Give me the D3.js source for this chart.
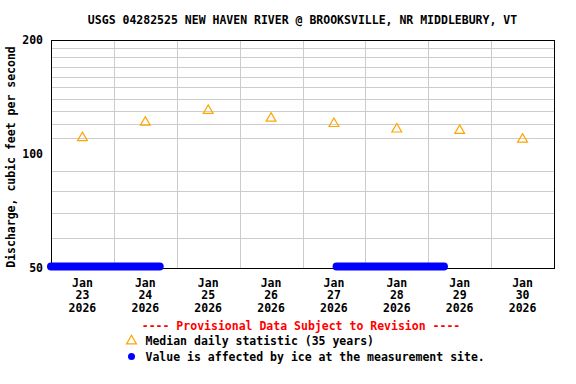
<!DOCTYPE html>
<html>
<head>
<meta charset="utf-8">
<script src="https://d3js.org/d3.v7.min.js"></script>
<style>
  body { margin: 0; background: #fff; }
  text { font-family: "DejaVu Sans Mono", monospace; font-weight: bold; }
</style>
</head>
<body>
<div id="chart"></div>
<script>
// Days shown on the x axis (labels at noon of each day)
var days = ["2026-01-23", "2026-01-24", "2026-01-25", "2026-01-26",
            "2026-01-27", "2026-01-28", "2026-01-29", "2026-01-30"];
// Median daily statistic (35 years), cfs
var medianValues = [111, 122, 131, 125, 121, 117, 116, 110];
// Ice-affected periods (start, end)
var iceStart = ["2026-01-23T00:00", "2026-01-27T13:00"];
var iceEnd   = ["2026-01-24T17:30", "2026-01-29T06:00"];
// y axis
var yTicks = [50, 100, 200];
var yGrid = [60, 70, 80, 90, 110, 120, 130, 140, 150, 160, 170, 180, 190];

var W = 576, H = 384;
var plotL = 51, plotR = 554, plotT = 40, plotB = 268;

var parse = d3.timeParse("%Y-%m-%dT%H:%M");
var parseDay = d3.timeParse("%Y-%m-%d");

var svg = d3.select("#chart").append("svg")
    .attr("width", W)
    .attr("height", H);

var x = d3.scaleTime()
    .domain([parseDay("2026-01-23"), parseDay("2026-01-31")])
    .range([plotL, plotR]);

var y = d3.scaleLog()
    .domain([50, 200])
    .range([plotB, plotT]);

// horizontal grid
svg.append("g").selectAll("line")
    .data(yGrid)
    .enter().append("line")
    .attr("x1", plotL).attr("x2", plotR)
    .attr("y1", function(d) { return Math.round(y(d)) + 0.5; })
    .attr("y2", function(d) { return Math.round(y(d)) + 0.5; })
    .attr("stroke", "#cccccc");

// vertical grid at day boundaries
var bounds = d3.timeDay.range(parseDay("2026-01-24"), parseDay("2026-01-31"));
svg.append("g").selectAll("line")
    .data(bounds)
    .enter().append("line")
    .attr("x1", function(d) { return Math.round(x(d)) + 0.5; })
    .attr("x2", function(d) { return Math.round(x(d)) + 0.5; })
    .attr("y1", plotT).attr("y2", plotB)
    .attr("stroke", "#cccccc");

// plot frame
svg.append("rect")
    .attr("x", plotL + 0.5).attr("y", plotT + 0.5)
    .attr("width", plotR - plotL).attr("height", plotB - plotT)
    .attr("fill", "none")
    .attr("stroke", "#000");

// ice periods, drawn at the bottom of the plot
svg.append("g").selectAll("line")
    .data(iceStart)
    .enter().append("line")
    .attr("x1", function(d) { return x(parse(d)); })
    .attr("x2", function(d, i) { return x(parse(iceEnd[i])); })
    .attr("y1", y(50) - 1.5)
    .attr("y2", y(50) - 1.5)
    .attr("stroke", "#0000ff")
    .attr("stroke-width", 8)
    .attr("stroke-linecap", "round");

// median triangles
var tri = d3.symbol().type(d3.symbolTriangle).size(42);
svg.append("g").selectAll("path")
    .data(medianValues)
    .enter().append("path")
    .attr("d", tri)
    .attr("transform", function(d, i) {
        var t = d3.timeHour.offset(parseDay(days[i]), 12);
        return "translate(" + x(t) + "," + (y(d) + 1) + ")";
    })
    .attr("fill", "none")
    .attr("stroke", "#ffa500")
    .attr("stroke-width", 1.2);

// y tick labels
svg.append("g").selectAll("text")
    .data(yTicks)
    .enter().append("text")
    .attr("x", 43)
    .attr("y", function(d) { return y(d); })
    .attr("dy", "0.34em")
    .attr("text-anchor", "end")
    .style("font-size", "11.5px")
    .text(function(d) { return d; });

// x tick labels
var fmtDay = d3.timeFormat("%d");
var xl = svg.append("g").selectAll("text")
    .data(days)
    .enter().append("text")
    .attr("text-anchor", "middle")
    .style("font-size", "11.5px")
    .attr("transform", function(d) {
        var t = d3.timeHour.offset(parseDay(d), 12);
        return "translate(" + x(t) + ",286.5)";
    });
xl.append("tspan").attr("x", 0).attr("y", 0).text("Jan");
xl.append("tspan").attr("x", 0).attr("y", 12.7).text(function(d) { return fmtDay(parseDay(d)); });
xl.append("tspan").attr("x", 0).attr("y", 25.4).text("2026");

// title
svg.append("text")
    .attr("x", (plotL + plotR) / 2)
    .attr("y", 24)
    .attr("text-anchor", "middle")
    .style("font-size", "11.5px")
    .text("USGS 04282525 NEW HAVEN RIVER @ BROOKSVILLE, NR MIDDLEBURY, VT");

// y axis title
svg.append("text")
    .attr("transform", "translate(14.5,157) rotate(-90)")
    .attr("text-anchor", "middle")
    .style("font-size", "11.5px")
    .text("Discharge, cubic feet per second");

// legend
svg.append("text")
    .attr("x", 301)
    .attr("y", 330)
    .attr("text-anchor", "middle")
    .attr("fill", "#ff0000")
    .style("font-size", "11.5px")
    .text("---- Provisional Data Subject to Revision ----");

svg.append("path")
    .attr("d", tri)
    .attr("transform", "translate(131.5,341)")
    .attr("fill", "none")
    .attr("stroke", "#ffa500")
    .attr("stroke-width", 1.2);
svg.append("text")
    .attr("x", 145.5).attr("y", 345)
    .style("font-size", "11.5px")
    .text("Median daily statistic (35 years)");

svg.append("circle")
    .attr("cx", 131.5).attr("cy", 356.5)
    .attr("r", 3.5)
    .attr("fill", "#0000ff");
svg.append("text")
    .attr("x", 145.5).attr("y", 360.5)
    .style("font-size", "11.5px")
    .text("Value is affected by ice at the measurement site.");
</script>
</body>
</html>
